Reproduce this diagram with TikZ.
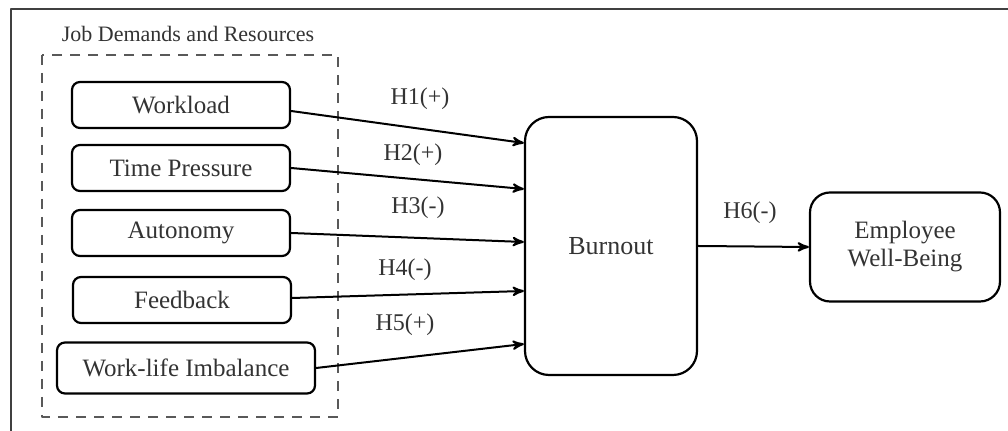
\documentclass[tikz,border=0pt]{standalone}
\usepackage{fontspec}
\setmainfont{Liberation Serif}
\usetikzlibrary{arrows}
\begin{document}
\begin{tikzpicture}[line cap=round,line join=round,>=stealth',x=0.5pt,y=-0.5pt, thick,
    var/.style={rectangle, rounded corners=4pt, draw, line width=1.1pt, minimum width=109pt, minimum height=23pt, font=\fontsize{12.5}{14}\selectfont, text=black!80},
    hyp/.style={font=\fontsize{12}{14}\selectfont, text=black!80},
    link/.style={->, line width=1pt}]
    \useasboundingbox (0,0) rectangle (1008,431);
    % frame
    \draw [line width=1.3pt, black!75] (1008,9) -- (11,9) -- (11,431);

    \node[hyp, font=\fontsize{11}{13}\selectfont] (jdr) at (188,34) {Job Demands and Resources};
    \draw [black!65, line width=1.2pt, line cap=butt, dash pattern=on 5pt off 4pt] (42,55) rectangle (338,417);

    \node[var] (work) at (181,105) {Workload};
    \node[var] (time) at (181,168) {Time Pressure};
    \node[var] (auto) at (181,233) {Autonomy};
    \node[var] (feed) at (182,300) {Feedback};
    \node[var, minimum width=129pt, minimum height=25.5pt] (wlib) at (186,368) {Work-life Imbalance};

    \node[var, rounded corners=12pt, minimum width=86pt, minimum height=129pt, font=\fontsize{13}{15}\selectfont] (burn) at (611,246) {Burnout};
    \node[var, rounded corners=10pt, minimum width=95pt, minimum height=54.5pt, align=center] (emp) at (905,247) {Employee\\Well-Being};

    \draw [link] ([yshift=-3pt]work.east) -- ([yshift=51.5pt]burn.west);
    \draw [link] (time.east) -- ([yshift=28.5pt]burn.west);
    \draw [link] (auto.east) -- ([yshift=2pt]burn.west);
    \draw [link] ([yshift=1pt]feed.east) -- ([yshift=-22.5pt]burn.west);
    \draw [link] (wlib.east) -- ([yshift=-49pt]burn.west);
    \draw [link] (burn.east) -- (emp.west);

    \node[hyp] (h1) at (420,99) {H1(+)};
    \node[hyp] (h2) at (413,155) {H2(+)};
    \node[hyp] (h3) at (418,208) {H3(-)};
    \node[hyp] (h4) at (405,270) {H4(-)};
    \node[hyp] (h5) at (405,325) {H5(+)};
    \node[hyp] (h6) at (750,213) {H6(-)};
\end{tikzpicture}
\end{document}
